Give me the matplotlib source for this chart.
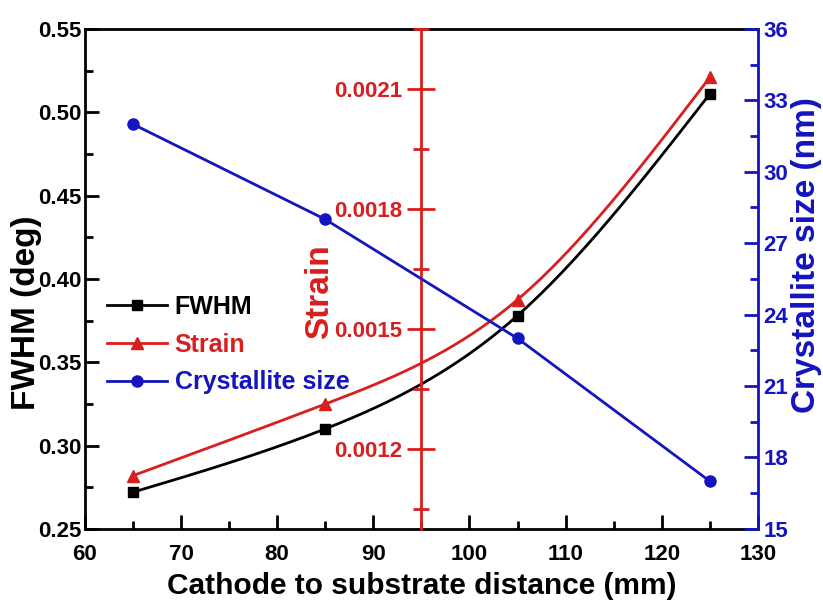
import numpy as np
import matplotlib
matplotlib.use("Agg")
import matplotlib.pyplot as plt
from matplotlib.ticker import MultipleLocator, FormatStrFormatter
from matplotlib.lines import Line2D

plt.rcParams["font.family"] = ["Liberation Sans", "DejaVu Sans"]
plt.rcParams["font.weight"] = "bold"

distance = [65, 85, 105, 125]
fwhm = [0.272, 0.310, 0.378, 0.511]
strain = [0.001133, 0.001312, 0.001573, 0.002129]
cryst_size = [32.0, 28.0, 23.0, 17.0]

RED = "#D81E1E"
BLUE = "#1414C0"


def natural_spline(x, y, n=200):
    # natural cubic spline through the data points (smooth connector like Origin)
    x = np.asarray(x, float)
    y = np.asarray(y, float)
    k = len(x)
    h = np.diff(x)
    A = np.zeros((k, k))
    b = np.zeros(k)
    A[0, 0] = A[-1, -1] = 1
    for i in range(1, k - 1):
        A[i, i - 1] = h[i - 1]
        A[i, i] = 2 * (h[i - 1] + h[i])
        A[i, i + 1] = h[i]
        b[i] = 6 * ((y[i + 1] - y[i]) / h[i] - (y[i] - y[i - 1]) / h[i - 1])
    M = np.linalg.solve(A, b)
    xs = np.linspace(x[0], x[-1], n)
    ys = np.empty_like(xs)
    for j, xv in enumerate(xs):
        i = min(np.searchsorted(x, xv, side="right") - 1, k - 2)
        t1 = x[i + 1] - xv
        t2 = xv - x[i]
        ys[j] = (M[i] * t1**3 / (6 * h[i]) + M[i + 1] * t2**3 / (6 * h[i])
                 + (y[i] / h[i] - M[i] * h[i] / 6) * t1
                 + (y[i + 1] / h[i] - M[i + 1] * h[i] / 6) * t2)
    return xs, ys


fig = plt.figure(figsize=(8.23, 6.01), dpi=100)
ax = fig.add_subplot(111)
fig.subplots_adjust(left=0.103, right=0.921, top=0.952, bottom=0.12)

# FWHM (left axis)
xs, ys = natural_spline(distance, fwhm)
ax.plot(xs, ys, color="black", lw=2)
ax.plot(distance, fwhm, ls="none", marker="s", ms=7, color="black")
ax.set_xlim(60, 130)
ax.set_ylim(0.25, 0.55)
ax.xaxis.set_major_locator(MultipleLocator(10))
ax.xaxis.set_minor_locator(MultipleLocator(5))
ax.yaxis.set_major_locator(MultipleLocator(0.05))
ax.yaxis.set_minor_locator(MultipleLocator(0.025))
ax.yaxis.set_major_formatter(FormatStrFormatter("%.2f"))
ax.tick_params(axis="both", which="both", direction="in", width=2, labelsize=16)
ax.tick_params(axis="both", which="major", length=10)
ax.tick_params(axis="both", which="minor", length=6)
ax.tick_params(axis="x", pad=11)
ax.tick_params(axis="y", pad=2)
ax.tick_params(top=False, right=False, which="both")
for s in ["left", "bottom", "top"]:
    ax.spines[s].set_linewidth(2)
ax.spines["right"].set_visible(False)
ax.set_xlabel("Cathode to substrate distance (mm)", fontsize=21.5, fontweight="bold", labelpad=5)
ax.set_ylabel("FWHM (deg)", fontsize=24, fontweight="bold")
ax.yaxis.set_label_coords(-0.064, 0.432)

# Crystallite size (right axis)
ax2 = ax.twinx()
ax2.plot(distance, cryst_size, color=BLUE, lw=2, marker="o", ms=8)
ax2.set_ylim(15, 36)
ax2.yaxis.set_major_locator(MultipleLocator(3))
ax2.yaxis.set_minor_locator(MultipleLocator(1.5))
ax2.tick_params(axis="y", which="both", direction="in", width=2, colors=BLUE, labelsize=16, pad=4)
ax2.tick_params(axis="y", which="major", length=10)
ax2.tick_params(axis="y", which="minor", length=6)
for s in ["left", "bottom", "top"]:
    ax2.spines[s].set_visible(False)
ax2.spines["right"].set_color(BLUE)
ax2.spines["right"].set_linewidth(2)
ax2.set_ylabel("Crystallite size (nm)", fontsize=24, fontweight="bold", color=BLUE)
ax2.yaxis.set_label_coords(1.049, 0.548)

# Strain (axis in the middle at x = 95)
ax3 = ax.twinx()
xs, ys = natural_spline(distance, strain)
ax3.plot(xs, ys, color=RED, lw=2)
ax3.plot(distance, strain, ls="none", marker="^", ms=8, color=RED)
ax3.set_ylim(0.0010, 0.00225)
ax3.yaxis.set_major_locator(MultipleLocator(0.0003))
ax3.yaxis.set_minor_locator(MultipleLocator(0.00015))
ax3.yaxis.set_major_formatter(FormatStrFormatter("%.4f"))
for s in ["right", "bottom", "top"]:
    ax3.spines[s].set_visible(False)
ax3.spines["left"].set_visible(True)
ax3.spines["left"].set_position(("axes", 0.5))
ax3.spines["left"].set_color(RED)
ax3.spines["left"].set_linewidth(2)
ax3.yaxis.set_ticks_position("left")
ax3.yaxis.set_label_position("left")
ax3.tick_params(axis="y", which="both", direction="inout", width=2, colors=RED, labelsize=16)
ax3.tick_params(axis="y", which="major", length=20)
ax3.tick_params(axis="y", which="minor", length=11)
ax3.set_ylabel("Strain", fontsize=24, fontweight="bold", color=RED)
ax3.yaxis.set_label_coords(0.372, 0.474)

# keep the blue line over the red strain axis
ax2.set_zorder(ax3.get_zorder() + 1)

handles = [
    Line2D([], [], color="black", lw=2, marker="s", ms=7),
    Line2D([], [], color=RED, lw=2, marker="^", ms=8),
    Line2D([], [], color=BLUE, lw=2, marker="o", ms=8),
]
leg = ax2.legend(handles, ["FWHM", "Strain", "Crystallite size"], loc="upper left",
                 bbox_to_anchor=(0.0, 0.513), frameon=False, fontsize=18,
                 handlelength=2.4, handletextpad=0.3, labelspacing=0.55)
for txt, c in zip(leg.get_texts(), ["black", RED, BLUE]):
    txt.set_color(c)
    txt.set_fontweight("bold")

fig.savefig("out.png", dpi=100)
